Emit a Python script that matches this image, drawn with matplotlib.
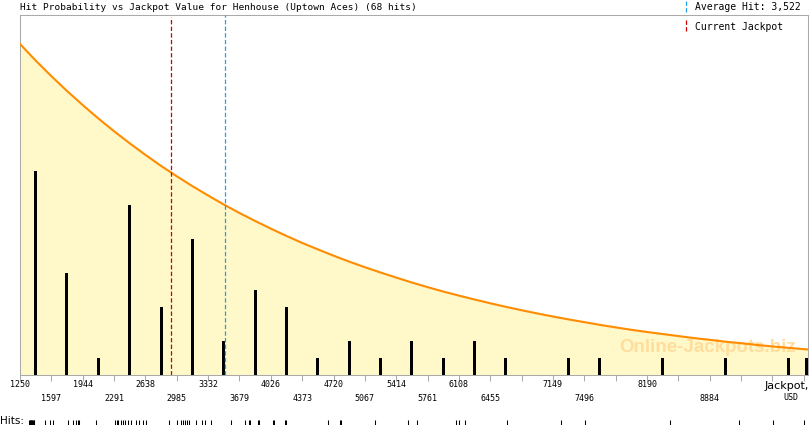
import matplotlib
matplotlib.use("Agg")
import matplotlib.pyplot as plt

W, H = 810, 425

# x axis ticks (jackpot, USD)
tick_values = [1250, 1597, 1944, 2291, 2638, 2985, 3332, 3679, 4026, 4373,
               4720, 5067, 5414, 5761, 6108, 6455, 6802, 7149, 7496, 7843,
               8190, 8537, 8884, 9231, 9578, 9925]
top_labels = [1250, 1944, 2638, 3332, 4026, 4720, 5414, 6108, 7149, 8190]
bottom_labels = [1597, 2291, 2985, 3679, 4373, 5067, 5761, 6455, 7496, 8884]
x_max = 9972

# histogram of hits
bar_x = [1423, 1770, 2117, 2464, 2811, 3158, 3505, 3852, 4199, 4546, 4893,
         5240, 5587, 5934, 6281, 6628, 7322, 7669, 8363, 9057, 9751, 9955]
bar_counts = [12, 6, 1, 10, 4, 8, 2, 5, 4, 1, 2, 1, 2, 1, 2, 1, 1, 1, 1, 1, 1, 1]

# hit probability curve (hit-count units), read at every tick and half tick
curve_x = [1250, 1423, 1597, 1770, 1944, 2117, 2291, 2464, 2638, 2811,
           2985, 3158, 3332, 3505, 3679, 3852, 4026, 4199, 4373, 4546,
           4720, 4893, 5067, 5240, 5414, 5587, 5761, 5934, 6108, 6281,
           6455, 6628, 6802, 6975, 7149, 7322, 7496, 7669, 7843, 8016,
           8190, 8363, 8537, 8710, 8884, 9057, 9231, 9404, 9578, 9751,
           9925, 9972]
curve_y = [19.47, 18.50, 17.58, 16.71, 15.88, 15.09, 14.34, 13.63, 12.95,
           12.30, 11.69, 11.11, 10.56, 10.03, 9.53, 9.06, 8.61, 8.18, 7.77,
           7.39, 7.02, 6.67, 6.34, 6.03, 5.73, 5.44, 5.17, 4.91, 4.67, 4.44,
           4.22, 4.01, 3.81, 3.62, 3.44, 3.27, 3.11, 2.95, 2.80, 2.66, 2.53,
           2.41, 2.29, 2.17, 2.07, 1.96, 1.87, 1.77, 1.68, 1.60, 1.52, 1.50]

# individual hits
hits = [1355, 1361, 1366, 1372, 1377, 1383, 1388, 1394, 1400, 1405, 1527, 1580,
        1615, 1785, 1840, 1870, 1895, 1900,
        2088,
        2305, 2320, 2339, 2365, 2390, 2416, 2450, 2480, 2530, 2570,
        2610, 2640, 2899, 2985,
        3030, 3055, 3080, 3100, 3120, 3200, 3260, 3300,
        3360, 3580,
        3741, 3790, 3800, 3880, 3890,
        4050, 4062, 4183, 4190,
        4663,
        4792, 4803,
        5180,
        5548, 5641,
        6073,
        6112, 6175,
        6637,
        7235,
        7500,
        8448,
        9205,
        9580,
        9932]

average_hit = 3522
current_jackpot = 2925

fig = plt.figure(figsize=(W / 100, H / 100), dpi=100)
ax = fig.add_axes([20 / W, 1 - 375 / H, 788 / W, 360 / H])
ax.set_xlim(1250, x_max)
ax.set_ylim(0, 360 / 17)

ax.fill_between(curve_x, curve_y, 0, color="#fff8c9", lw=0, zorder=1)
ax.plot(curve_x, curve_y, color="#ff8c00", lw=1.5, zorder=4)
ax.bar(bar_x, bar_counts, width=33, color="black", lw=0, zorder=3)

ax.axvline(current_jackpot, ymax=0.995, color="#cc0000", lw=0.9,
           dashes=(3.5, 1.8), zorder=5)
ax.axvline(average_hit, color="#22a0e6", lw=0.9, dashes=(3.5, 1.8), zorder=5)

ax.text(0.985, 0.075, "Online-Jackpots.biz", transform=ax.transAxes,
        ha="right", va="center", fontsize=13.5, fontweight="bold",
        family="Liberation Sans", color="#ffdd9c", zorder=2)

for s in ax.spines.values():
    s.set_color("#aaaaaa")
    s.set_linewidth(0.75)
ax.set_yticks([])
ax.set_xticks(tick_values)
ax.set_xticklabels([])
ax.tick_params(axis="x", direction="out", length=4.5, width=0.75,
               color="#aaaaaa")

mono = "DejaVu Sans Mono"
for v in top_labels:
    ax.text(v, -0.027, str(v), transform=ax.get_xaxis_transform(),
            ha="center", va="center", fontsize=6, family=mono)
for v in bottom_labels:
    ax.text(v, -0.065, str(v), transform=ax.get_xaxis_transform(),
            ha="center", va="center", fontsize=6, family=mono)
fig.text(809 / W, 1 - 386 / H, "Jackpot,", ha="right", va="center",
         fontsize=8)
fig.text(791 / W, 1 - 398 / H, "USD", ha="center", va="center",
         fontsize=6, family=mono)

fig.text(20 / W, 1 - 7 / H,
         "Hit Probability vs Jackpot Value for Henhouse (Uptown Aces) (68 hits)",
         ha="left", va="center", fontsize=6.8, family=mono)

# legend
fig.add_artist(plt.Line2D([686 / W, 686 / W], [1 - 1 / H, 1 - 12 / H],
                          color="#22a0e6", lw=0.9, dashes=(3.5, 1.8)))
fig.add_artist(plt.Line2D([686 / W, 686 / W], [1 - 20 / H, 1 - 33 / H],
                          color="#cc0000", lw=0.9, dashes=(3.5, 1.8)))
fig.text(695 / W, 1 - 7 / H, "Average Hit: 3,522", ha="left", va="center",
         fontsize=7, family=mono)
fig.text(695 / W, 1 - 27 / H, "Current Jackpot", ha="left", va="center",
         fontsize=7, family=mono)

# hits row
fig.text(0, 1 - 421 / H, "Hits:", ha="left", va="center", fontsize=7.5)
axh = fig.add_axes([20 / W, 0, 788 / W, 5 / H])
axh.set_xlim(1250, x_max)
axh.set_ylim(0, 1)
axh.vlines(hits, 0, 1, color="black", lw=0.75)
axh.axis("off")

fig.savefig("out.png", dpi=100)
